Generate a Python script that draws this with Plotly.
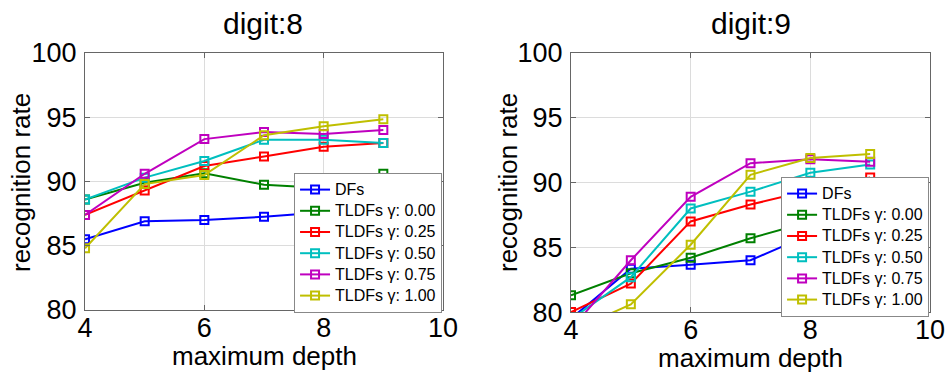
import plotly.graph_objects as go

depth = [4, 5, 6, 7, 8, 9]
names = ["DFs", "TLDFs γ: 0.00", "TLDFs γ: 0.25", "TLDFs γ: 0.50", "TLDFs γ: 0.75", "TLDFs γ: 1.00"]
colors = ["#0000ff", "#008000", "#ff0000", "#00bfbf", "#bf00bf", "#bfbf00"]

digit8_dfs = [85.5, 86.9, 87.0, 87.25, 87.6, 88.0]
digit8_g000 = [88.6, 89.9, 90.65, 89.75, 89.5, 90.6]
digit8_g025 = [87.4, 89.3, 91.2, 91.95, 92.7, 93.0]
digit8_g050 = [88.6, 90.3, 91.6, 93.25, 93.25, 93.0]
digit8_g075 = [87.4, 90.6, 93.3, 93.85, 93.7, 94.0]
digit8_g100 = [84.8, 89.8, 90.5, 93.6, 94.3, 94.85]

digit9_dfs = [79.5, 83.35, 83.65, 84.0, 86.0, 86.5]
digit9_g000 = [81.3, 83.0, 84.2, 85.7, 87.0, 87.5]
digit9_g025 = [80.0, 82.2, 87.0, 88.3, 89.4, 90.4]
digit9_g050 = [79.45, 82.7, 88.0, 89.3, 90.75, 91.4]
digit9_g075 = [78.7, 84.0, 88.9, 91.5, 91.8, 91.6]
digit9_g100 = [78.5, 80.6, 85.2, 90.6, 91.9, 92.2]

x_ticks = [4, 6, 8, 10]
y_ticks = [80, 85, 90, 95, 100]

series8 = [digit8_dfs, digit8_g000, digit8_g025, digit8_g050, digit8_g075, digit8_g100]
series9 = [digit9_dfs, digit9_g000, digit9_g025, digit9_g050, digit9_g075, digit9_g100]

FONT = "Liberation Sans, Arial, sans-serif"

fig = go.Figure()
for i, (nm, c) in enumerate(zip(names, colors)):
    fig.add_trace(go.Scatter(
        x=depth, y=series8[i], name='<span style="font-size:16px">' + nm + '</span>',
        mode="lines+markers",
        line=dict(color=c, width=2),
        marker=dict(symbol="square-open", size=8, color=c, line=dict(width=2)),
        xaxis="x", yaxis="y", legend="legend"))
for i, (nm, c) in enumerate(zip(names, colors)):
    fig.add_trace(go.Scatter(
        x=depth, y=series9[i], name='<span style="font-size:16px">' + nm + '</span>',
        mode="lines+markers",
        line=dict(color=c, width=2),
        marker=dict(symbol="square-open", size=8, color=c, line=dict(width=2)),
        xaxis="x2", yaxis="y2", legend="legend2"))

ax_common = dict(showline=True, linecolor="#666", linewidth=1, mirror="ticks",
                 ticks="inside", ticklen=5, tickcolor="#666", automargin=False,
                 showgrid=True, gridcolor="#dcdcdc", gridwidth=1,
                 zeroline=False, tickfont=dict(family=FONT, size=27, color="black"))

fig.update_layout(
    template="none",
    width=949, height=372,
    margin=dict(l=0, r=0, t=0, b=0, pad=0, autoexpand=False),
    paper_bgcolor="white", plot_bgcolor="white",
    font=dict(family=FONT, color="black"),
    xaxis=dict(domain=[0.0896, 0.4668], range=[4, 10], tickvals=x_ticks, anchor="y",
               ticklabelstandoff=-6, **ax_common),
    yaxis=dict(domain=[0.1667, 0.8575], range=[80, 100], tickvals=y_ticks, anchor="x",
               ticklabelstandoff=2, **ax_common),
    xaxis2=dict(domain=[0.6017, 0.98], range=[4, 10], tickvals=x_ticks, anchor="y2",
                ticklabelstandoff=-7, **ax_common),
    yaxis2=dict(domain=[0.161, 0.8575], range=[80, 100], tickvals=y_ticks, anchor="x2",
                ticklabelstandoff=2, **ax_common),
    legend=dict(x=0.4658, y=0.1586, xanchor="right", yanchor="bottom",
                bgcolor="white", bordercolor="#888", borderwidth=1,
                font=dict(family=FONT, size=14, color="black"), tracegroupgap=0),
    legend2=dict(x=0.979, y=0.1479, xanchor="right", yanchor="bottom",
                 bgcolor="white", bordercolor="#888", borderwidth=1,
                 font=dict(family=FONT, size=14, color="black"), tracegroupgap=0),
    showlegend=True,
)

ann_font = dict(family=FONT, size=26, color="black")
annotations = [
    dict(text="digit:8", x=263, y=24, font=dict(family=FONT, size=30, color="black")),
    dict(text="digit:9", x=751, y=24, font=dict(family=FONT, size=30, color="black")),
    dict(text="maximum depth", x=264, y=356, font=ann_font),
    dict(text="maximum depth", x=750, y=358, font=ann_font),
    dict(text="recognition rate", x=21, y=183, font=ann_font, textangle=-90),
    dict(text="recognition rate", x=508, y=183, font=ann_font, textangle=-90),
]
for a in annotations:
    fig.add_annotation(text=a["text"], xref="paper", yref="paper",
                       x=a["x"] / 949, y=1 - a["y"] / 372,
                       xanchor="center", yanchor="middle", showarrow=False,
                       font=a["font"], textangle=a.get("textangle", 0))

fig.write_html("out.html")
